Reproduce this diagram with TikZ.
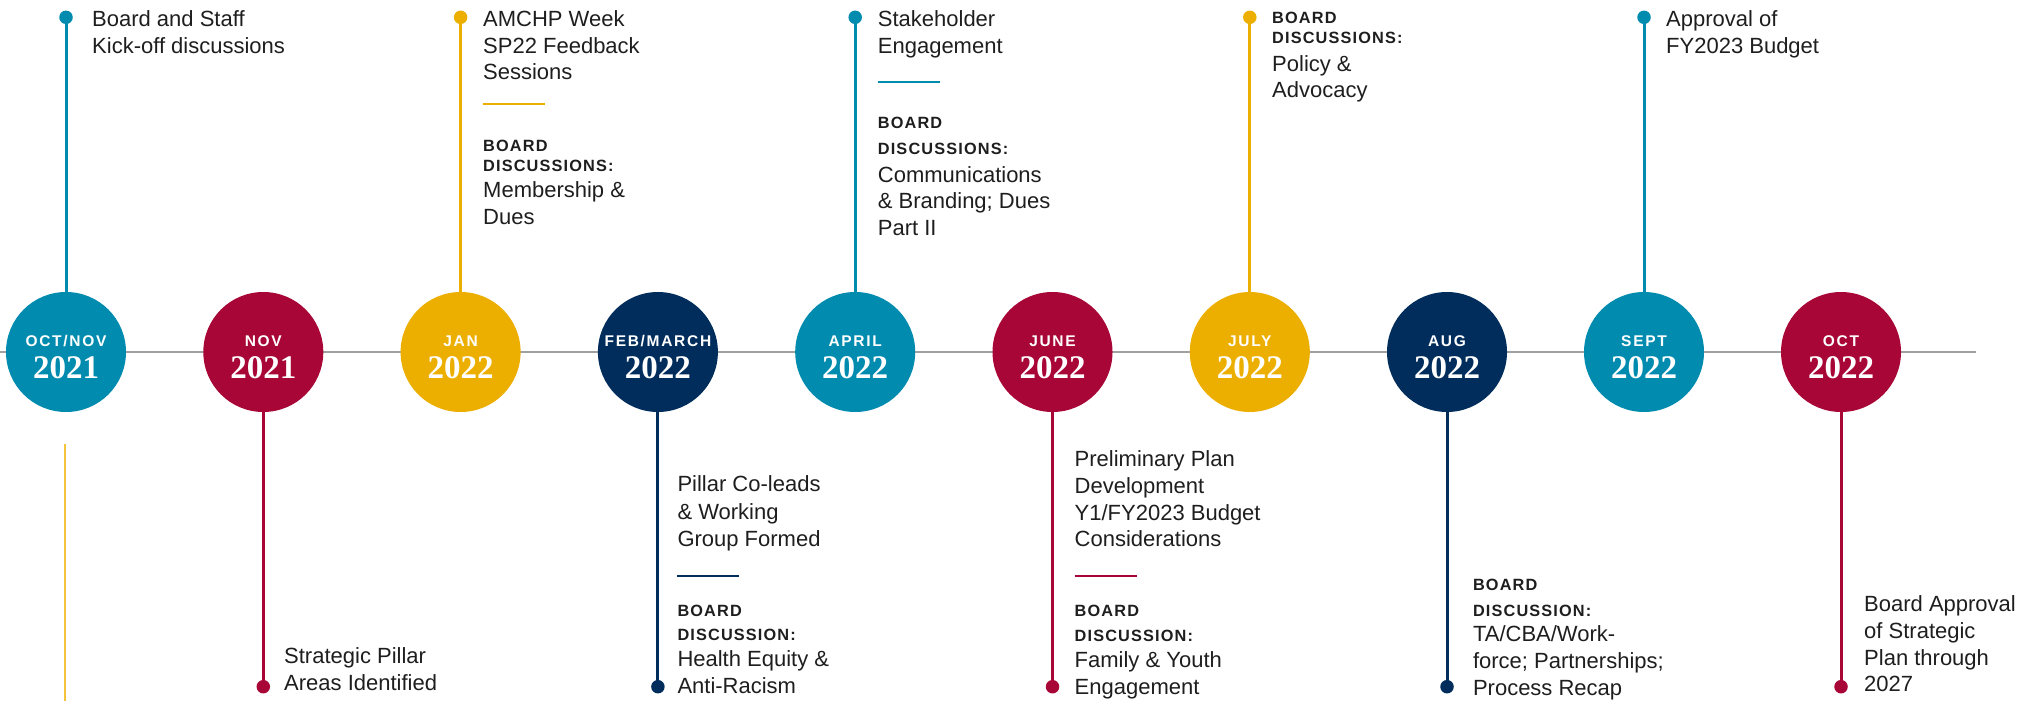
\documentclass[tikz,border=0pt]{standalone}
\usepackage{fontspec}
\setmainfont{Liberation Sans}
\newfontfamily\yearfont{Liberation Serif}
\newfontfamily\capsfont{Liberation Sans}[LetterSpace=7]
\newfontfamily\monthfont{Liberation Sans}[LetterSpace=11]
\definecolor{cteal}{RGB}{0,139,175}
\definecolor{cred}{RGB}{168,6,55}
\definecolor{cyel}{RGB}{236,175,0}
\definecolor{cnavy}{RGB}{0,45,92}
\definecolor{cline}{RGB}{160,160,160}
\definecolor{cink}{RGB}{30,30,30}
\definecolor{cpale}{RGB}{245,196,60}
\newcommand\tline[5]{\node[#4] (#1) at (#2,#3) {#5};}
\tikzset{
  body/.style={anchor=base west, inner sep=0pt, text=cink, font=\fontsize{22}{26}\selectfont},
  lab/.style={anchor=base west, inner sep=0pt, text=cink, font=\capsfont\bfseries\fontsize{16.3}{20}\selectfont},
  milestone/.style={circle, minimum size=120pt, inner sep=0pt},
  month/.style={anchor=base, inner sep=0pt, text=white, font=\monthfont\bfseries\fontsize{15.5}{18}\selectfont},
  year/.style={anchor=base, inner sep=0pt, text=white, font=\yearfont\bfseries\fontsize{33}{36}\selectfont},
  enddot/.style={circle, minimum size=13.5pt, inner sep=0pt},
  stem/.style={line width=3pt},
  divider/.style={line width=2pt},
}
\begin{document}
\begin{tikzpicture}[x=1pt,y=-1pt]
\useasboundingbox (0,0) rectangle (2034,701);
% axis
\coordinate (axL) at (0,352);
\coordinate (axR) at (1976,352);
\draw[cline, line width=2pt] (axL) -- (axR);
% pale line
\coordinate (pa) at (65,444);
\coordinate (pb) at (65,701);
\draw[cpale, line width=1.5pt] (pa) -- (pb);

% dots
\node[enddot, fill=cteal] (d1) at (66,17.3) {};
\node[enddot, fill=cred] (d2) at (263.3,686.7) {};
\node[enddot, fill=cyel] (d3) at (460.6,17.3) {};
\node[enddot, fill=cnavy] (d4) at (657.9,686.7) {};
\node[enddot, fill=cteal] (d5) at (855.2,17.3) {};
\node[enddot, fill=cred] (d6) at (1052.5,686.7) {};
\node[enddot, fill=cyel] (d7) at (1249.8,17.3) {};
\node[enddot, fill=cnavy] (d8) at (1447,686.7) {};
\node[enddot, fill=cteal] (d9) at (1644,17.3) {};
\node[enddot, fill=cred] (d10) at (1841,686.7) {};

% circles
\node[milestone, fill=cteal] (c1) at (66,352) {};
\node[milestone, fill=cred] (c2) at (263.3,352) {};
\node[milestone, fill=cyel] (c3) at (460.6,352) {};
\node[milestone, fill=cnavy] (c4) at (657.9,352) {};
\node[milestone, fill=cteal] (c5) at (855.2,352) {};
\node[milestone, fill=cred] (c6) at (1052.5,352) {};
\node[milestone, fill=cyel] (c7) at (1249.8,352) {};
\node[milestone, fill=cnavy] (c8) at (1447,352) {};
\node[milestone, fill=cteal] (c9) at (1644,352) {};
\node[milestone, fill=cred] (c10) at (1841,352) {};

% stems
\draw[stem, cteal] (c1.north) -- (d1.center);
\draw[stem, cred] (c2.south) -- (d2.center);
\draw[stem, cyel] (c3.north) -- (d3.center);
\draw[stem, cnavy] (c4.south) -- (d4.center);
\draw[stem, cteal] (c5.north) -- (d5.center);
\draw[stem, cred] (c6.south) -- (d6.center);
\draw[stem, cyel] (c7.north) -- (d7.center);
\draw[stem, cnavy] (c8.south) -- (d8.center);
\draw[stem, cteal] (c9.north) -- (d9.center);
\draw[stem, cred] (c10.south) -- (d10.center);

% circle labels
\node[month] (m1) at (66,346.7) {OCT/NOV};
\node[year] (y1) at (66,378.3) {2021};
\node[month] (m2) at (263.3,346.7) {NOV};
\node[year] (y2) at (263.3,378.3) {2021};
\node[month] (m3) at (460.6,346.7) {JAN};
\node[year] (y3) at (460.6,378.3) {2022};
\node[month] (m4) at (657.9,346.7) {FEB/MARCH};
\node[year] (y4) at (657.9,378.3) {2022};
\node[month] (m5) at (855.2,346.7) {APRIL};
\node[year] (y5) at (855.2,378.3) {2022};
\node[month] (m6) at (1052.5,346.7) {JUNE};
\node[year] (y6) at (1052.5,378.3) {2022};
\node[month] (m7) at (1249.8,346.7) {JULY};
\node[year] (y7) at (1249.8,378.3) {2022};
\node[month] (m8) at (1447,346.7) {AUG};
\node[year] (y8) at (1447,378.3) {2022};
\node[month] (m9) at (1644,346.7) {SEPT};
\node[year] (y9) at (1644,378.3) {2022};
\node[month] (m10) at (1841,346.7) {OCT};
\node[year] (y10) at (1841,378.3) {2022};

% OCT/NOV 2021 (top)
\tline{t1a}{92}{26.7}{body}{Board and Staff}
\tline{t1b}{92}{53.3}{body}{Kick-off discussions}

% NOV 2021 (bottom)
\tline{t2a}{284}{663.3}{body}{Strategic Pillar}
\tline{t2b}{284}{690}{body}{Areas Identified}

% JAN 2022 (top)
\tline{t3a}{483}{26.7}{body}{AMCHP Week}
\tline{t3b}{483}{53.3}{body}{SP22 Feedback}
\tline{t3c}{483}{80}{body}{Sessions}
\coordinate (v3a) at (483,103.7);
\coordinate (v3b) at (545,103.7);
\draw[divider, cyel] (v3a) -- (v3b);
\tline{t3d}{483}{151.7}{lab}{BOARD}
\tline{t3e}{483}{171.7}{lab}{DISCUSSIONS:}
\tline{t3f}{483}{197.3}{body}{Membership \&}
\tline{t3g}{483}{224}{body}{Dues}

% FEB/MARCH 2022 (bottom)
\tline{t4a}{677.3}{491.7}{body}{Pillar Co-leads}
\tline{t4b}{677.3}{519}{body}{\& Working}
\tline{t4c}{677.3}{546}{body}{Group Formed}
\coordinate (v4a) at (677.3,576);
\coordinate (v4b) at (738.5,576);
\draw[divider, cnavy] (v4a) -- (v4b);
\tline{t4d}{677.3}{616}{lab}{BOARD}
\tline{t4e}{677.3}{640}{lab}{DISCUSSION:}
\tline{t4f}{677.3}{666.7}{body}{Health Equity \&}
\tline{t4g}{677.3}{693.3}{body}{Anti-Racism}

% APRIL 2022 (top)
\tline{t5a}{877.7}{26.7}{body}{Stakeholder}
\tline{t5b}{877.7}{53.3}{body}{Engagement}
\coordinate (v5a) at (877.7,81.7);
\coordinate (v5b) at (940,81.7);
\draw[divider, cteal] (v5a) -- (v5b);
\tline{t5d}{877.7}{128}{lab}{BOARD}
\tline{t5e}{877.7}{154}{lab}{DISCUSSIONS:}
\tline{t5f}{877.7}{182}{body}{Communications}
\tline{t5g}{877.7}{208}{body}{\& Branding; Dues}
\tline{t5h}{877.7}{235}{body}{Part II}

% JUNE 2022 (bottom)
\tline{t6a}{1074.5}{466.7}{body}{Preliminary Plan}
\tline{t6b}{1074.5}{493.3}{body}{Development}
\tline{t6c}{1074.5}{520}{body}{Y1/FY2023 Budget}
\tline{t6d}{1074.5}{546.7}{body}{Considerations}
\coordinate (v6a) at (1074.5,576);
\coordinate (v6b) at (1137,576);
\draw[divider, cred] (v6a) -- (v6b);
\tline{t6e}{1074.5}{616.7}{lab}{BOARD}
\tline{t6f}{1074.5}{641.7}{lab}{DISCUSSION:}
\tline{t6g}{1074.5}{667.3}{body}{Family \& Youth}
\tline{t6h}{1074.5}{694}{body}{Engagement}

% JULY 2022 (top)
\tline{t7a}{1272}{24}{lab}{BOARD}
\tline{t7b}{1272}{43.3}{lab}{DISCUSSIONS:}
\tline{t7c}{1272}{71}{body}{Policy \&}
\tline{t7d}{1272}{97.7}{body}{Advocacy}

% AUG 2022 (bottom)
\tline{t8a}{1472.8}{590.7}{lab}{BOARD}
\tline{t8b}{1472.8}{616}{lab}{DISCUSSION:}
\tline{t8c}{1472.8}{641.7}{body}{TA/CBA/Work-}
\tline{t8d}{1472.8}{668.3}{body}{force; Partnerships;}
\tline{t8e}{1472.8}{695}{body}{Process Recap}

% SEPT 2022 (top)
\tline{t9a}{1666}{26.7}{body}{Approval of}
\tline{t9b}{1666}{53.3}{body}{FY2023 Budget}

% OCT 2022 (bottom)
\tline{t10a}{1864}{611.7}{body}{Board Approval}
\tline{t10b}{1864}{638.3}{body}{of Strategic}
\tline{t10c}{1864}{665}{body}{Plan through}
\tline{t10d}{1864}{691.7}{body}{2027}
\end{tikzpicture}
\end{document}
